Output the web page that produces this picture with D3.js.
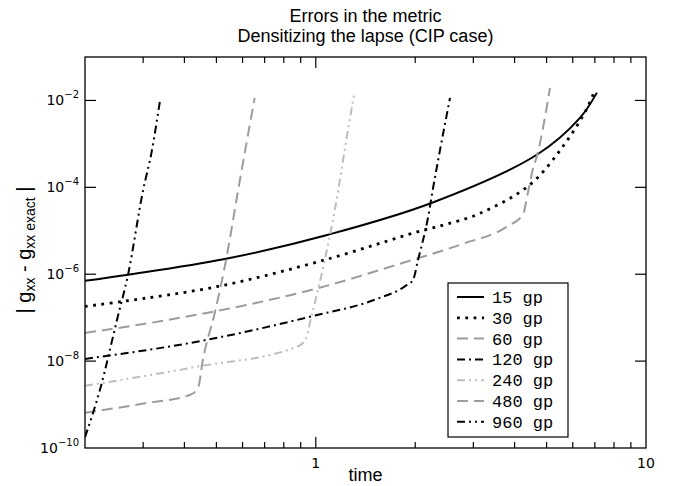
<!DOCTYPE html>
<html><head><meta charset="utf-8">
<script src="https://cdn.jsdelivr.net/npm/d3@7"></script>
<style>body{margin:0;background:#fff;} svg{display:block;}</style>
</head><body><svg id="c" width="673" height="486"></svg>
<script>
const titleLines = ["Errors in the metric", "Densitizing the lapse (CIP case)"];
const xLabel = "time";
const xTickLabels = [1, 10];
const yTickExps = [-10, -8, -6, -4, -2];
const seriesNames = ["15 gp","30 gp","60 gp","120 gp","240 gp","480 gp","960 gp"];
// each series: [time, log10(error)]
const s15 = [[0.2,-6.15],[0.27,-6.01],[0.53,-5.65],[1.09,-5.09],[2.24,-4.36],[4.67,-3.25],[6.31,-2.40],[7.10,-1.82]];
const s30 = [[0.2,-6.74],[0.258,-6.63],[0.506,-6.28],[1.065,-5.67],[2.04,-5.02],[2.46,-4.86],[3.14,-4.60],[4.45,-3.94],[5.6,-3.06],[6.6,-2.21],[6.95,-1.82]];
const s60 = [[0.2,-7.35],[0.358,-7.05],[1.016,-6.32],[2.04,-5.63],[2.46,-5.44],[2.79,-5.30],[3.8,-4.90],[4.24,-4.62],[4.39,-4.12],[4.54,-3.59],[4.67,-3.29],[5.12,-1.71]];
const s120 = [[0.2,-7.95],[0.468,-7.51],[0.97,-6.97],[1.53,-6.57],[1.86,-6.28],[1.97,-6.13],[2.04,-5.67],[2.19,-4.67],[2.26,-4.06],[2.37,-3.20],[2.55,-1.94]];
const s240 = [[0.2,-8.57],[0.436,-8.13],[0.876,-7.67],[0.93,-7.51],[0.97,-6.97],[1.065,-5.67],[1.17,-4.06],[1.21,-3.36],[1.31,-1.80]];
const s480 = [[0.2,-9.19],[0.31,-8.96],[0.415,-8.78],[0.44,-8.62],[0.455,-7.97],[0.494,-6.90],[0.537,-5.60],[0.582,-4.06],[0.653,-1.94]];
const s960 = [[0.2,-9.75],[0.222,-8.66],[0.25,-7.05],[0.27,-6.01],[0.30,-4.06],[0.318,-3.20],[0.337,-2.03]];
const seriesData = [s15,s30,s60,s120,s240,s480,s960];
const styles = [
  {c:"#000", d:null, w:2},
  {c:"#000", d:"2.8,5.5", w:2.8},
  {c:"#9c9c9c", d:"11,6", w:2},
  {c:"#000", d:"8,4,2,4", w:2},
  {c:"#bdbdbd", d:"8,4,2,4,2,4", w:2},
  {c:"#9c9c9c", d:"11,6", w:2},
  {c:"#000", d:"8,4,2,4,2,4", w:2}
];

const svg = d3.select("#c");
const L=85, R=646, T=57, B=448;
const x = d3.scaleLog().domain([0.2,10]).range([L,R]);
const y = d3.scaleLog().domain([1e-10,1e-1]).range([B,T]);

svg.selectAll(".title").data(titleLines).enter().append("text")
  .attr("x",(L+R)/2).attr("y",(d,i)=>22+i*20).attr("text-anchor","middle")
  .attr("font-family","Liberation Sans, Arial, sans-serif").attr("font-size",18).text(d=>d);

svg.append("clipPath").attr("id","clip").append("rect").attr("x",L).attr("y",T).attr("width",R-L).attr("height",B-T);

const lineM = d3.line().x(d=>x(d[0])).y(d=>y(Math.pow(10,d[1]))).curve(d3.curveMonotoneX);
const lineC = d3.line().x(d=>x(d[0])).y(d=>y(Math.pow(10,d[1]))).curve(d3.curveCatmullRom.alpha(0.5));
const g = svg.append("g").attr("clip-path","url(#clip)");
seriesData.forEach((s,i)=>{
  g.append("path").attr("d",(i<2?lineC:lineM)(s)).attr("fill","none").attr("stroke",styles[i].c)
   .attr("stroke-width",styles[i].w).attr("stroke-dasharray",styles[i].d);
});

svg.append("rect").attr("x",L).attr("y",T).attr("width",R-L).attr("height",B-T).attr("fill","none").attr("stroke","#000").attr("stroke-width",1.3);

const minor = [0.3,0.4,0.5,0.6,0.7,0.8,0.9,2,3,4,5,6,7,8,9];
const tk = svg.append("g").attr("stroke","#000").attr("stroke-width",1.2);
minor.forEach(v=>{
  tk.append("line").attr("x1",x(v)).attr("x2",x(v)).attr("y1",B).attr("y2",B-6);
  tk.append("line").attr("x1",x(v)).attr("x2",x(v)).attr("y1",T).attr("y2",T+6);
});
[1].forEach(v=>{
  tk.append("line").attr("x1",x(v)).attr("x2",x(v)).attr("y1",B).attr("y2",B-11);
  tk.append("line").attr("x1",x(v)).attr("x2",x(v)).attr("y1",T).attr("y2",T+11);
});
[-8,-6,-4,-2].forEach(e=>{
  const yy=y(Math.pow(10,e));
  tk.append("line").attr("x1",L).attr("x2",L+11).attr("y1",yy).attr("y2",yy);
  tk.append("line").attr("x1",R).attr("x2",R-11).attr("y1",yy).attr("y2",yy);
});

svg.selectAll(".xl").data(xTickLabels).enter().append("text")
  .attr("x",d=>x(d)).attr("y",B+20).attr("text-anchor","middle")
  .attr("font-family","DejaVu Sans, sans-serif").attr("font-size",14).text(d=>d);
svg.append("text").attr("x",(L+R)/2).attr("y",B+33).attr("text-anchor","middle")
  .attr("font-family","Liberation Sans, Arial, sans-serif").attr("font-size",18).text(xLabel);

yTickExps.forEach(e=>{
  const yy=y(Math.pow(10,e));
  const t = svg.append("text").attr("x",L-6).attr("y",yy+5).attr("text-anchor","end")
    .attr("font-family","DejaVu Sans, sans-serif").attr("font-size",14);
  t.append("tspan").text("10");
  t.append("tspan").attr("dy",-7).attr("font-size",10).text("\u2212"+(-e));
});

const yl = svg.append("text").attr("transform","translate(31,250) rotate(-90)").attr("text-anchor","middle")
  .attr("font-family","Liberation Sans, Arial, sans-serif").attr("font-size",20);
yl.append("tspan").text("| g");
yl.append("tspan").attr("font-size",14).attr("dy",4).text("xx");
yl.append("tspan").attr("dy",-4).text(" - g");
yl.append("tspan").attr("font-size",14).attr("dy",4).text("xx exact");
yl.append("tspan").attr("dy",-4).text(" |");

const lx=448, ly=283, lw=120, lh=154;
svg.append("rect").attr("x",lx).attr("y",ly).attr("width",lw).attr("height",lh).attr("fill","#fff").attr("stroke","#000").attr("stroke-width",1.2);
seriesNames.forEach((n,i)=>{
  const yy = ly+14+i*20.8;
  svg.append("line").attr("x1",lx+9).attr("x2",lx+36).attr("y1",yy).attr("y2",yy)
    .attr("stroke",styles[i].c).attr("stroke-width",styles[i].w).attr("stroke-dasharray",styles[i].d);
  svg.append("text").attr("x",lx+44).attr("y",yy+6).attr("font-family","Liberation Mono, monospace")
    .attr("font-size",17).text(n);
});
</script></body></html>
